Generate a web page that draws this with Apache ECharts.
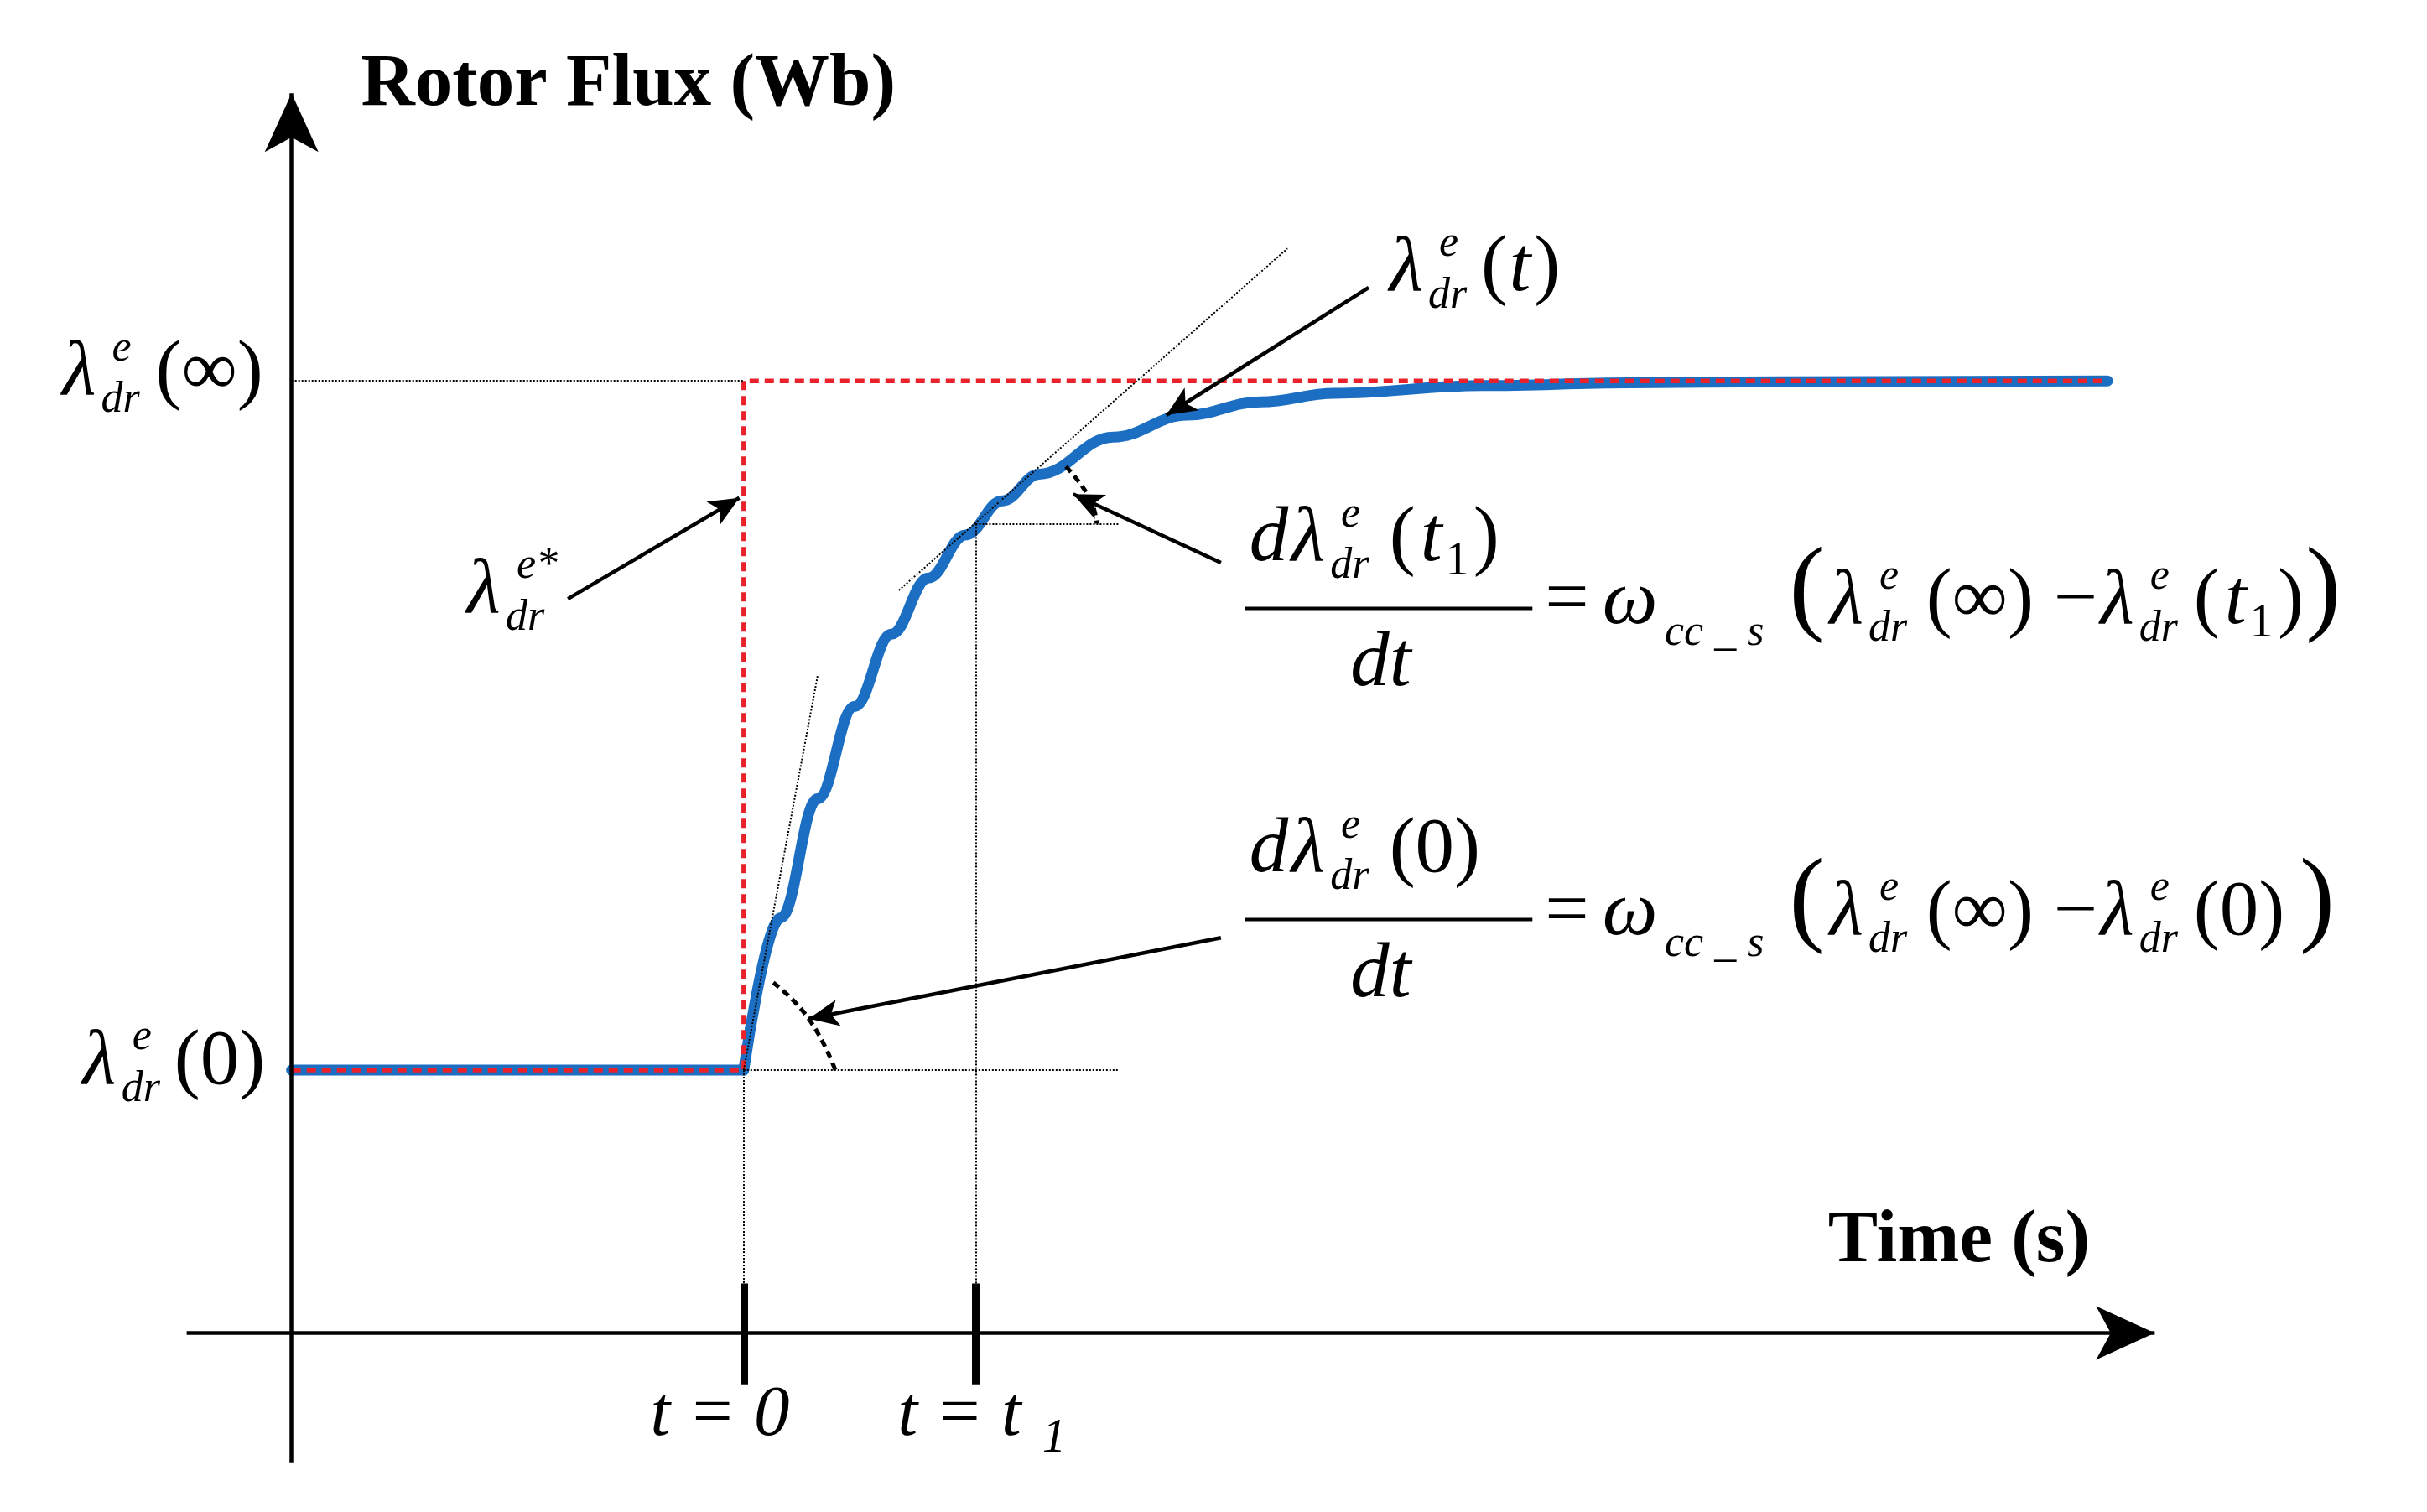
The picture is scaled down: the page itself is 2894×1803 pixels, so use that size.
<!DOCTYPE html>
<html><head><meta charset="utf-8">
<script src="https://cdn.jsdelivr.net/npm/echarts@6/dist/echarts.min.js"></script>
<style>html,body{margin:0;background:#fff}#c{width:2894px;height:1803px}</style>
</head><body><div id="c"></div>
<script>
var S = 2894 / 1560;
// levels and times (time in units of the rotor time constant)
var fluxStart = 0.276, fluxEnd = 1.0, t1 = 1.57, tEnd = 9.23, tLeft = -3.06;
var curveT = [0, 0.25, 0.5, 0.75, 1, 1.25, 1.5, 1.75, 2, 2.5, 3, 3.5, 4, 5, 6, 7, 9.23];
var curveV = [0.276, 0.436, 0.561, 0.658, 0.734, 0.793, 0.838, 0.874, 0.902, 0.941, 0.964, 0.978, 0.987, 0.995, 0.998, 0.999, 1.0];
var tan0 = [[0, 0.276], [0.5, 0.69]];
var tan1 = [[1.05, 0.78], [3.68, 1.139]];
var arc0 = [[0.2, 0.368], [0.44, 0.33], [0.62, 0.276]];
var arc1 = [[2.18, 0.91], [2.34, 0.877], [2.39, 0.85]];

var chart = echarts.init(document.getElementById('c'));
var flat = [[tLeft, fluxStart], [0, fluxStart]];
var flux = [];
for (var i = 0; i < curveT.length; i++) flux.push([curveT[i], curveV[i]]);
var ref = [[tLeft, fluxStart], [0, fluxStart], [0, fluxEnd], [tEnd, fluxEnd]];
var yT1 = 0.85;

function seg(a, b) { return [{coord: a}, {coord: b}]; }
function ml(data, style, sym, size) {
  return {type: 'line', data: [], z: 5, markLine: {silent: true, animation: false,
    symbol: sym || ['none', 'none'], symbolSize: size || 10,
    label: {show: false}, lineStyle: style, data: data}};
}

var texts = [];
function tx(x, y, s, size, opt) {
  opt = opt || {};
  texts.push({type: 'text', left: x * S, top: (y - size * 0.6) * S, z: 10,
    style: {text: s, fill: '#000', font: (opt.i ? 'italic ' : '') + (opt.b ? 'bold ' : '') + Math.round(size * S) + 'px "Liberation Serif"'}});
}
function lam(x, y, sup, sub) {
  tx(x, y, 'λ', 50, {i: 1});
  tx(x + 32, y - 18, sup, 28, {i: 1});
  tx(x + 25, y + 15, sub, 28, {i: 1});
}
function argT1(x, y) {
  tx(x, y, '(', 50); tx(x + 20, y, 't', 50, {i: 1});
  tx(x + 36, y + 12, '1', 30); tx(x + 54, y, ')', 50);
}
tx(232, 60, 'Rotor Flux (Wb)', 48, {b: 1});
tx(1175, 803, 'Time (s)', 48, {b: 1});
tx(418, 915, 't = 0', 46, {i: 1});
tx(577, 915, 't = t', 46, {i: 1});
tx(670, 928, '1', 30, {i: 1});
lam(40, 245, 'e', 'dr'); tx(100, 245, '(∞)', 50);
lam(53, 688, 'e', 'dr'); tx(112, 688, '(0)', 50);
lam(300, 385, 'e*', 'dr');
lam(893, 178, 'e', 'dr');
tx(952, 178, '(', 50); tx(970, 178, 't', 50, {i: 1}); tx(986, 178, ')', 50);
function eq(yc, isT1) {
  var yn = yc - 40, yd = yc + 40;
  tx(803, yn, 'd', 50, {i: 1}); lam(830, yn, 'e', 'dr');
  if (isT1) argT1(893, yn); else tx(893, yn, '(0)', 50);
  tx(868, yd, 'dt', 50, {i: 1});
  texts.push({type: 'rect', shape: {x: 800 * S, y: (yc - 2) * S, width: 185 * S, height: 2.2 * S}, style: {fill: '#000'}});
  tx(993, yc, '=', 50); tx(1030, yc, 'ω', 50, {i: 1}); tx(1070, yc + 18, 'cc _ s', 28, {i: 1});
  tx(1150, yc - 4, '(', 68);
  lam(1176, yc, 'e', 'dr'); tx(1238, yc, '(∞)', 50);
  tx(1320, yc, '−', 50);
  lam(1350, yc, 'e', 'dr');
  if (isT1) argT1(1410, yc); else tx(1410, yc, '(0)', 50);
  tx(isT1 ? 1482 : 1478, yc - 4, ')', 68);
}
eq(392, true);
eq(592, false);

var dotted = {color: '#000', width: 2, type: 'dotted'};
var arrowStyle = {color: '#000', width: 4.5, type: 'solid'};
var option = {
  animation: false,
  grid: {left: 120 * S, right: 2894 - 1385 * S, top: 60 * S, bottom: 1803 - 940 * S},
  xAxis: {type: 'value', min: -3.77, max: 9.55, show: false},
  yAxis: {type: 'value', min: -0.136, max: 1.302, show: false},
  graphic: texts,
  series: [
    ml([seg([-3.77, 0], [9.55, 0]), seg([tLeft, -0.136], [tLeft, 1.302])],
       {color: '#000', width: 4.5, type: 'solid'}, ['none', 'arrow'], [48, 70]),
    ml([seg([0, 0.052], [0, -0.054]), seg([t1, 0.052], [t1, -0.054])],
       {color: '#000', width: 9, type: 'solid'}),
    ml([seg([tLeft, fluxEnd], [0, fluxEnd]), seg([0, fluxStart], [2.54, fluxStart]),
        seg([0, fluxStart], [0, 0]), seg([t1, yT1], [t1, 0]), seg([t1, yT1], [2.54, yT1]),
        seg(tan0[0], tan0[1]), seg(tan1[0], tan1[1])], dotted),
    ml([seg([4.23, 1.098], [2.86, 0.964]), seg([-1.19, 0.771], [-0.03, 0.877]),
        seg([3.23, 0.809], [2.23, 0.881]), seg([3.23, 0.415], [0.44, 0.33])],
       arrowStyle, ['none', 'arrow'], [24, 36]),
    {type: 'line', data: flat, showSymbol: false, z: 3,
     lineStyle: {color: '#1b6ec2', width: 13, cap: 'round'}},
    {type: 'line', data: flux, smooth: 0.4, smoothMonotone: 'x', showSymbol: false, z: 3,
     lineStyle: {color: '#1b6ec2', width: 13, cap: 'round', join: 'round'}},
    {type: 'line', data: ref, showSymbol: false, z: 4,
     lineStyle: {color: '#e8212a', width: 5.5, type: [11, 7]}},
    {type: 'line', data: arc0, smooth: true, showSymbol: false, z: 4,
     lineStyle: {color: '#000', width: 5, type: [9, 6]}},
    {type: 'line', data: arc1, smooth: true, showSymbol: false, z: 4,
     lineStyle: {color: '#000', width: 5, type: [9, 6]}}
  ]
};
chart.setOption(option);
</script></body></html>
